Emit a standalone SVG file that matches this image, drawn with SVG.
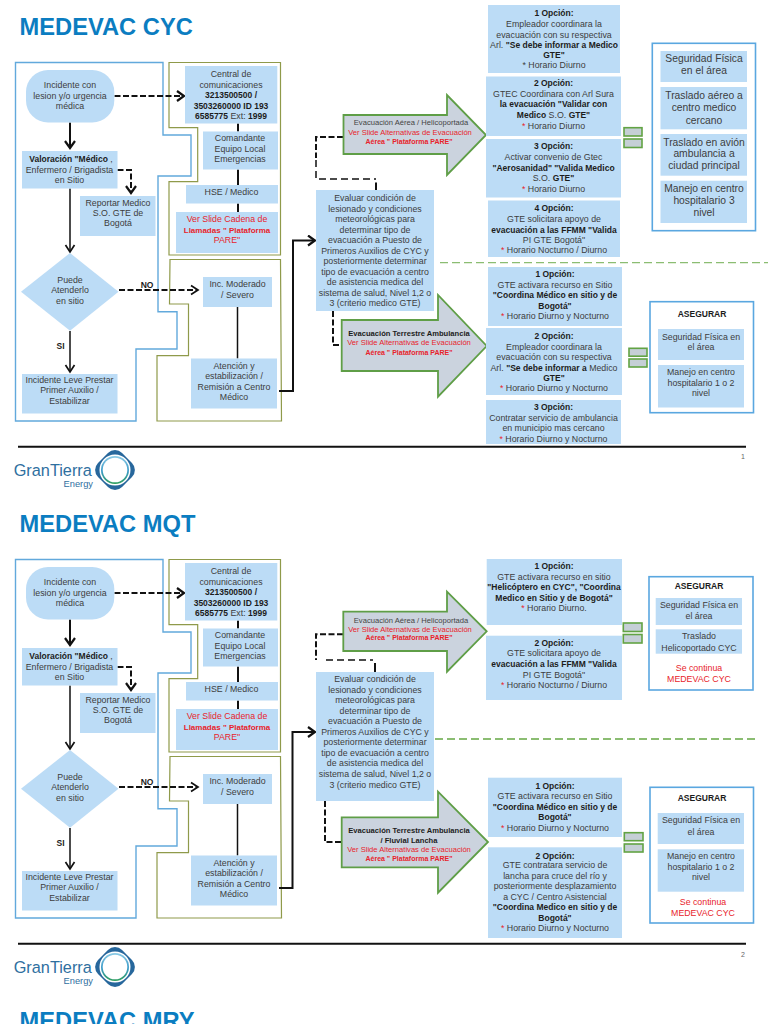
<svg xmlns="http://www.w3.org/2000/svg" width="768" height="1024" viewBox="0 0 768 1024">
<style>
text{font-family:"Liberation Sans",Arial,sans-serif}
.title{font-size:23.700px;font-weight:700;fill:#0b7dc1}
.t{font-size:8.800px;fill:#3d3d3d;text-anchor:middle}
.m{font-size:10.300px;fill:#3d3d3d;text-anchor:middle}
.b{font-weight:700;fill:#1c1c1c;font-size:8.500px}
.r{fill:#e8232b}
.a{font-size:7.600px;fill:#444;text-anchor:middle}
.ar{font-size:7.600px;fill:#e8232b;text-anchor:middle}
.arb{font-size:7px;fill:#e8232b;text-anchor:middle;font-weight:700}
.ab{font-size:7.600px;fill:#1c1c1c;text-anchor:middle;font-weight:700}
.box{fill:#bcdcf6}
.blue{fill:none;stroke:#62a9dc;stroke-width:1.4}
.olive{fill:none;stroke:#8f9a4a;stroke-width:1.2}
.rb{fill:#fff;stroke:#5aa7e0;stroke-width:1.6}
.arrow{fill:#cbd3de;stroke:#5f9e47;stroke-width:1.8}
.eq{fill:#c5cfd6;stroke:#62a344;stroke-width:1.6}
.ln{fill:none;stroke:#111;stroke-width:1.5}
.th{fill:none;stroke:#111;stroke-width:2}
.da{fill:none;stroke:#111;stroke-width:2;stroke-dasharray:6 2.5}
.dl{fill:none;stroke:#111;stroke-width:1.5;stroke-dasharray:7 4}
.gd{fill:none;stroke:#8bbd72;stroke-width:1.3;stroke-dasharray:8 4}
.foot{fill:none;stroke:#111;stroke-width:2}
.pg{font-size:7px;fill:#666;text-anchor:end}
.gt{font-size:16.300px;fill:#2f6f9f}
.en{font-size:9.300px;fill:#2f6f9f;text-anchor:end}
</style>
<defs>
<marker id="op" markerUnits="userSpaceOnUse" markerWidth="12" markerHeight="12" refX="9" refY="6" orient="auto"><path d="M2,1.5 L9,6 L2,10.5" fill="none" stroke="#111" stroke-width="1.7"/></marker>
<marker id="op2" markerUnits="userSpaceOnUse" markerWidth="12" markerHeight="12" refX="9" refY="6" orient="auto"><path d="M2,1 L9,6 L2,11" fill="none" stroke="#111" stroke-width="2.2"/></marker>
<linearGradient id="lg" x1="0" y1="0" x2="0" y2="1"><stop offset="0" stop-color="#8ccbe6"/><stop offset=".55" stop-color="#3a9ac8"/><stop offset="1" stop-color="#2f9f5c"/></linearGradient>
<g id="logoMark">
<rect x="98" y="453" width="34" height="34" rx="10" fill="#27679c" transform="rotate(45 115 470)"/>
<circle cx="115" cy="470" r="15.500" fill="#fff"/>
<circle cx="115" cy="470" r="14" fill="url(#lg)"/>
<circle cx="115" cy="470" r="12.300" fill="#fff"/>
</g>
</defs>
<rect width="768" height="1024" fill="#fff"/>

<text class="title" x="19.500" y="35">MEDEVAC CYC</text>

<g id="s1-left" >
<g id="s1-containers">
<path class="blue" d="M15.500,62.500H163V135H191V176H158V311.700H177V349H136V421H15.500Z"/>
<path class="olive" d="M169,62.500H280.500V255H169V181.700H197.700V127.700H169Z"/>
<path class="olive" d="M170,259.500H280.500L281.500,421H157V355.700H188.500V304H169.500Z"/>
</g>
<g id="s1-connectors">
<path class="th" d="M70,122.500V148" marker-end="url(#op2)"/>
<path class="da" d="M114.500,96H184" marker-end="url(#op2)"/>
<path class="da" d="M117.500,170H131V193" marker-end="url(#op2)"/>
<path class="ln" d="M70,188.500V252" marker-end="url(#op)"/>
<path class="da" d="M119,290H198" marker-end="url(#op)"/>
<path class="ln" d="M70,331V372" marker-end="url(#op)"/>
<path class="th" d="M238,123.500V131.500M238,169.500V185M238,203.500V212"/>
<path class="ln" d="M237.500,307V358.500" stroke-width="1"/>
</g>
<g id="s1-incidente"><rect class="box" x="26" y="70" width="88.300" height="52.500" rx="22"/><text class="t"><tspan x="70" y="88.200">Incidente con</tspan><tspan x="70" y="98.500">lesion y/o urgencia</tspan><tspan x="70" y="109.300">médica</tspan></text></g>
<g id="s1-central"><rect class="box" x="185" y="66" width="92.300" height="57.500"/><text class="t"><tspan x="231" y="77.200">Central de</tspan><tspan x="231" y="87.500">comunicaciones</tspan><tspan x="231" y="98"><tspan class="b">3213500500 /</tspan></tspan><tspan x="231" y="108.500"><tspan class="b">3503260000 ID 193</tspan></tspan><tspan x="231" y="119"><tspan class="b">6585775</tspan>  Ext: <tspan class="b">1999</tspan></tspan></text></g>
<g id="s1-comandante"><rect class="box" x="203" y="131.500" width="75" height="38"/><text class="t"><tspan x="240" y="141.200">Comandante</tspan><tspan x="240" y="151.500">Equipo Local</tspan><tspan x="240" y="162.300">Emergencias</tspan></text></g>
<g id="s1-hse"><rect class="box" x="186" y="185" width="92" height="18.500"/><text class="t" x="231.500" y="195">HSE / Medico</text></g>
<g id="s1-cadena"><rect class="box" x="176" y="212" width="102" height="41"/><text class="t r"><tspan x="227" y="222.200">Ver Slide Cadena de</tspan><tspan x="227" y="232.500" class="r" font-weight="700" font-size="8">Llamadas " Plataforma</tspan><tspan x="227" y="243.300">PARE"</tspan></text></g>
<g id="s1-valoracion"><rect class="box" x="22" y="151" width="95.500" height="37.500"/><text class="t"><tspan x="71" y="162.200"><tspan class="b">Valoración "Médico</tspan> ,</tspan><tspan x="69.500" y="173">Enfermero / Brigadista</tspan><tspan x="69.500" y="183.300">en Sitio</tspan></text></g>
<g id="s1-reportar"><rect class="box" x="80" y="196" width="75.500" height="40"/><text class="t"><tspan x="118" y="205.700">Reportar Medico</tspan><tspan x="118" y="215.500">S.O. GTE de</tspan><tspan x="118" y="226.300">Bogotá</tspan></text></g>
<g id="s1-puede"><path class="box" d="M70,253L118.500,291.800L70,330.700L21,291.800Z"/><text class="t"><tspan x="70" y="282.700">Puede</tspan><tspan x="70" y="293.200">Atenderlo</tspan><tspan x="70" y="304.200">en sitio</tspan></text></g>
<g id="s1-moderado"><rect class="box" x="203" y="277" width="69" height="30"/><text class="t"><tspan x="237.500" y="287.200">Inc. Moderado</tspan><tspan x="237.500" y="298">/ Severo</tspan></text></g>
<g id="s1-atencion"><rect class="box" x="191" y="358.500" width="86" height="50"/><text class="t"><tspan x="234" y="369.200">Atención y</tspan><tspan x="234" y="379.300">estabilización /</tspan><tspan x="234" y="390.300">Remisión a Centro</tspan><tspan x="234" y="400.300">Médico</tspan></text></g>
<g id="s1-leve"><rect class="box" x="22" y="374" width="95.500" height="39.500"/><text class="t"><tspan x="69.500" y="382.500">Incidente Leve Prestar</tspan><tspan x="69.500" y="393.300">Primer Auxilio /</tspan><tspan x="69.500" y="403.500">Estabilizar</tspan></text></g>
<text class="t b" x="147" y="287.500">NO</text>
<text class="t b" x="60.500" y="348.500">SI</text>
</g>

<g id="s1-right-connectors">
<path class="th" d="M279,391H293V240.500H315" marker-end="url(#op2)"/>
<path class="da" d="M343,137H316V158"/>
<path class="dl" d="M316,160V179H376"/>
<path class="th" d="M376,182.500V190"/>
<path class="da" d="M333,311V345H341"/>
<path class="gd" d="M440,262.700H768"/>
</g>
<g id="s1-evaluar"><rect class="box" x="316" y="190" width="118" height="121"/><text class="t"><tspan x="375" y="201">Evaluar condición de</tspan><tspan x="375" y="211.500">lesionado y condiciones</tspan><tspan x="375" y="222.200">meteorológicas para</tspan><tspan x="375" y="232.700">determinar tipo de</tspan><tspan x="375" y="243.200">evacuación a Puesto de</tspan><tspan x="375" y="253.700">Primeros Auxilios de CYC y</tspan><tspan x="375" y="264.200">posteriormente  determinar</tspan><tspan x="375" y="274.700">tipo de evacuación a centro</tspan><tspan x="375" y="285.200">de asistencia medica del</tspan><tspan x="375" y="295.700">sistema de salud, Nivel 1,2 o</tspan><tspan x="375" y="306.200">3 (criterio medico GTE)</tspan></text></g>
<g id="s1-aerea"><path class="arrow" d="M343.500,115H447V95L486,135L447,175V154H343.500Z"/><text class="a" x="411" y="124.500">Evacuación Aérea / Helicoportada</text><text class="ar" x="410" y="134.500">Ver Slide Alternativas de Evacuación</text><text class="arb" x="409" y="143.500">Aérea " Plataforma PARE"</text></g>
<g id="s1-terrestre"><path class="arrow" d="M341.700,320H438V295L486.700,346L438,396.700V371H341.700Z"/><text class="ab" x="409" y="336">Evacuación Terrestre Ambulancia</text><text class="ar" x="409" y="345">Ver Slide Alternativas de Evacuación</text><text class="arb" x="409" y="354.500">Aérea " Plataforma PARE"</text></g>

<g id="s1-op1"><rect class="box" x="488" y="5" width="132" height="68"/><text class="t"><tspan x="554" y="16.300" class="b">1 Opción:</tspan><tspan x="554" y="26.500">Empleador coordinara la</tspan><tspan x="554" y="37.500">evacuación con su respectiva</tspan><tspan x="554" y="47.500">Arl. <tspan class="b">"Se debe informar a Medico</tspan></tspan><tspan x="554" y="58"><tspan class="b">GTE"</tspan></tspan><tspan x="554" y="68.300">* Horario Diurno</tspan></text></g>
<g id="s1-op2"><rect class="box" x="486" y="76.500" width="135" height="59.500"/><text class="t"><tspan x="553.500" y="85.700" class="b">2 Opción:</tspan><tspan x="553.500" y="96.500">GTEC Coordinara con Arl Sura</tspan><tspan x="553.500" y="107"><tspan class="b">la evacuación "Validar con</tspan></tspan><tspan x="553.500" y="117.500"><tspan class="b">Medico</tspan> S.O. <tspan class="b">GTE"</tspan></tspan><tspan x="553.500" y="128.500"><tspan class="r">*</tspan> Horario Diurno</tspan></text></g>
<g id="s1-op3"><rect class="box" x="486" y="139" width="135" height="58.500"/><text class="t"><tspan x="553.500" y="148.700" class="b">3 Opción:</tspan><tspan x="553.500" y="159.500">Activar convenio de Gtec</tspan><tspan x="553.500" y="170.500"><tspan class="b">"Aerosanidad" "Valida Medico</tspan></tspan><tspan x="553.500" y="180.700">S.O. <tspan class="b">GTE"</tspan></tspan><tspan x="553.500" y="191.700"><tspan class="r">*</tspan> Horario Diurno</tspan></text></g>
<g id="s1-op4"><rect class="box" x="488" y="200.500" width="132" height="56.500"/><text class="t"><tspan x="554" y="211.200" class="b">4 Opción:</tspan><tspan x="554" y="222">GTE solicitara apoyo de</tspan><tspan x="554" y="232.700"><tspan class="b">evacuación a las FFMM "Valida</tspan></tspan><tspan x="554" y="243">PI GTE Bogotá"</tspan><tspan x="554" y="253.200"><tspan class="r">*</tspan> Horario Nocturno / Diurno</tspan></text></g>
<g id="s1-op5"><rect class="box" x="488" y="267" width="134" height="59"/><text class="t"><tspan x="555" y="276.700" class="b">1 Opción:</tspan><tspan x="555" y="288">GTE activara recurso en Sitio</tspan><tspan x="555" y="298.200"><tspan class="b">"Coordina Médico en sitio y de</tspan></tspan><tspan x="555" y="308.700"><tspan class="b">Bogotá"</tspan></tspan><tspan x="555" y="319.200"><tspan class="r">*</tspan> Horario Diurno y Nocturno</tspan></text></g>
<g id="s1-op6"><rect class="box" x="486" y="328" width="136" height="67"/><text class="t"><tspan x="554" y="339.200" class="b">2 Opción:</tspan><tspan x="554" y="349.700">Empleador coordinara la</tspan><tspan x="554" y="360.200">evacuación con su respectiva</tspan><tspan x="554" y="370.700">Arl. <tspan class="b">"Se debe informar a</tspan> Medico</tspan><tspan x="554" y="381.200"><tspan class="b">GTE"</tspan></tspan><tspan x="554" y="391.200"><tspan class="r">*</tspan> Horario Diurno y Nocturno</tspan></text></g>
<g id="s1-op7"><rect class="box" x="486" y="400" width="135" height="44"/><text class="t"><tspan x="553.500" y="409.500" class="b">3 Opción:</tspan><tspan x="553.500" y="421">Contratar servicio de ambulancia</tspan><tspan x="553.500" y="431.200">en municipio mas cercano</tspan><tspan x="553.500" y="441.700"><tspan class="r">*</tspan> Horario Diurno y Nocturno</tspan></text></g>

<g id="s1-eq1"><rect class="eq" x="624" y="127.700" width="18" height="8.300"/><rect class="eq" x="624" y="139" width="18" height="8.500"/></g>
<g id="s1-res1"><rect class="rb" x="652.300" y="43.300" width="103.200" height="187.400"/>
<rect class="box" x="660.500" y="51" width="86.500" height="31"/><rect class="box" x="660.500" y="87" width="86.500" height="42.300"/><rect class="box" x="660.500" y="134" width="86.500" height="41.700"/><rect class="box" x="660.500" y="180.700" width="86.500" height="42.300"/>
<text class="m"><tspan x="704" y="62.300">Seguridad Física</tspan><tspan x="704" y="74">en el área</tspan><tspan x="704" y="99.300">Traslado aéreo a</tspan><tspan x="704" y="111.300">centro medico</tspan><tspan x="704" y="123.600">cercano</tspan><tspan x="704" y="145.600">Traslado en avión</tspan><tspan x="704" y="157.300">ambulancia a</tspan><tspan x="704" y="169.300">ciudad principal</tspan><tspan x="704" y="191.600">Manejo en centro</tspan><tspan x="704" y="203.600">hospitalario 3</tspan><tspan x="704" y="215.600">nivel</tspan></text></g>
<g id="s1-eq2"><rect class="eq" x="629" y="348.300" width="18" height="7.900"/><rect class="eq" x="629" y="359" width="18" height="8"/></g>
<g id="s1-res2"><rect class="rb" x="650" y="301.700" width="103.500" height="111"/>
<text class="t b" x="702" y="317.300">ASEGURAR</text>
<rect class="box" x="658" y="329" width="86" height="31"/><rect class="box" x="658" y="365" width="86" height="42.500"/>
<text class="t"><tspan x="701" y="339.800">Seguridad Física en</tspan><tspan x="701" y="349.800">el área</tspan><tspan x="701" y="375">Manejo en centro</tspan><tspan x="701" y="386">hospitalario 1 o 2</tspan><tspan x="701" y="396.200">nivel</tspan></text></g>

<g id="s1-footer"><path class="foot" d="M18,446.700H746"/><text class="pg" x="745" y="459">1</text>
<use href="#logoMark"/><text class="gt" x="13.700" y="476">GranTierra</text><text class="en" x="93" y="487">Energy</text></g>

<text class="title" x="19.500" y="532">MEDEVAC MQT</text>

<g id="s2-left" transform="translate(0,497)">
<g id="s2-containers">
<path class="blue" d="M15.500,62.500H163V135H191V176H158V311.700H177V349H136V421H15.500Z"/>
<path class="olive" d="M169,62.500H280.500V255H169V181.700H197.700V127.700H169Z"/>
<path class="olive" d="M170,259.500H280.500L281.500,421H157V355.700H188.500V304H169.500Z"/>
</g>
<g id="s2-connectors">
<path class="th" d="M70,122.500V148" marker-end="url(#op2)"/>
<path class="da" d="M114.500,96H184" marker-end="url(#op2)"/>
<path class="da" d="M117.500,170H131V193" marker-end="url(#op2)"/>
<path class="ln" d="M70,188.500V252" marker-end="url(#op)"/>
<path class="da" d="M119,290H198" marker-end="url(#op)"/>
<path class="ln" d="M70,331V372" marker-end="url(#op)"/>
<path class="th" d="M238,123.500V131.500M238,169.500V185M238,203.500V212"/>
<path class="ln" d="M237.500,307V358.500" stroke-width="1"/>
</g>
<g id="s2-incidente"><rect class="box" x="26" y="70" width="88.300" height="52.500" rx="22"/><text class="t"><tspan x="70" y="88.200">Incidente con</tspan><tspan x="70" y="98.500">lesion y/o urgencia</tspan><tspan x="70" y="109.300">médica</tspan></text></g>
<g id="s2-central"><rect class="box" x="185" y="66" width="92.300" height="57.500"/><text class="t"><tspan x="231" y="77.200">Central de</tspan><tspan x="231" y="87.500">comunicaciones</tspan><tspan x="231" y="98"><tspan class="b">3213500500 /</tspan></tspan><tspan x="231" y="108.500"><tspan class="b">3503260000 ID 193</tspan></tspan><tspan x="231" y="119"><tspan class="b">6585775</tspan>  Ext: <tspan class="b">1999</tspan></tspan></text></g>
<g id="s2-comandante"><rect class="box" x="203" y="131.500" width="75" height="38"/><text class="t"><tspan x="240" y="141.200">Comandante</tspan><tspan x="240" y="151.500">Equipo Local</tspan><tspan x="240" y="162.300">Emergencias</tspan></text></g>
<g id="s2-hse"><rect class="box" x="186" y="185" width="92" height="18.500"/><text class="t" x="231.500" y="195">HSE / Medico</text></g>
<g id="s2-cadena"><rect class="box" x="176" y="212" width="102" height="41"/><text class="t r"><tspan x="227" y="222.200">Ver Slide Cadena de</tspan><tspan x="227" y="232.500" class="r" font-weight="700" font-size="8">Llamadas " Plataforma</tspan><tspan x="227" y="243.300">PARE"</tspan></text></g>
<g id="s2-valoracion"><rect class="box" x="22" y="151" width="95.500" height="37.500"/><text class="t"><tspan x="71" y="162.200"><tspan class="b">Valoración "Médico</tspan> ,</tspan><tspan x="69.500" y="173">Enfermero / Brigadista</tspan><tspan x="69.500" y="183.300">en Sitio</tspan></text></g>
<g id="s2-reportar"><rect class="box" x="80" y="196" width="75.500" height="40"/><text class="t"><tspan x="118" y="205.700">Reportar Medico</tspan><tspan x="118" y="215.500">S.O. GTE de</tspan><tspan x="118" y="226.300">Bogotá</tspan></text></g>
<g id="s2-puede"><path class="box" d="M70,253L118.500,291.800L70,330.700L21,291.800Z"/><text class="t"><tspan x="70" y="282.700">Puede</tspan><tspan x="70" y="293.200">Atenderlo</tspan><tspan x="70" y="304.200">en sitio</tspan></text></g>
<g id="s2-moderado"><rect class="box" x="203" y="277" width="69" height="30"/><text class="t"><tspan x="237.500" y="287.200">Inc. Moderado</tspan><tspan x="237.500" y="298">/ Severo</tspan></text></g>
<g id="s2-atencion"><rect class="box" x="191" y="358.500" width="86" height="50"/><text class="t"><tspan x="234" y="369.200">Atención y</tspan><tspan x="234" y="379.300">estabilización /</tspan><tspan x="234" y="390.300">Remisión a Centro</tspan><tspan x="234" y="400.300">Médico</tspan></text></g>
<g id="s2-leve"><rect class="box" x="22" y="374" width="95.500" height="39.500"/><text class="t"><tspan x="69.500" y="382.500">Incidente Leve Prestar</tspan><tspan x="69.500" y="393.300">Primer Auxilio /</tspan><tspan x="69.500" y="403.500">Estabilizar</tspan></text></g>
<text class="t b" x="147" y="287.500">NO</text>
<text class="t b" x="60.500" y="348.500">SI</text>
</g>

<g id="s2-right-connectors">
<path class="th" d="M279,888H292.500V732H315" marker-end="url(#op2)"/>
<path class="da" d="M343,634.300H316V660"/>
<path class="dl" d="M326,660H373"/>
<path class="th" d="M375,663V672"/>
<path class="da" d="M325,801V842H341"/>
<path class="gd" d="M435,739H757" style="stroke-width:2.200"/>
</g>
<g id="s2-evaluar"><rect class="box" x="316" y="672" width="118" height="129"/><text class="t"><tspan x="375" y="681.500">Evaluar condición de</tspan><tspan x="375" y="692.700">lesionado y condiciones</tspan><tspan x="375" y="703.200">meteorológicas para</tspan><tspan x="375" y="713.700">determinar tipo de</tspan><tspan x="375" y="724.200">evacuación a Puesto de</tspan><tspan x="375" y="734.700">Primeros Auxilios de CYC y</tspan><tspan x="375" y="745.200">posteriormente  determinar</tspan><tspan x="375" y="755.700">tipo de evacuación a centro</tspan><tspan x="375" y="766.200">de asistencia medica del</tspan><tspan x="375" y="776.700">sistema de salud, Nivel 1,2 o</tspan><tspan x="375" y="787.500">3 (criterio medico GTE)</tspan></text></g>
<g id="s2-aerea"><path class="arrow" d="M343.300,611.700H447V591.700L486.700,631.300L447,671.700V651H343.300Z"/><text class="a" x="411" y="622.500">Evacuación Aérea / Helicoportada</text><text class="ar" x="410" y="631.700">Ver Slide Alternativas de Evacuación</text><text class="arb" x="409" y="640">Aérea " Plataforma PARE"</text></g>
<g id="s2-terrestre"><path class="arrow" d="M341.700,817.300H438V791.700L488,842L438,892.700V867.300H341.700Z"/><text class="ab"><tspan x="409" y="833">Evacuación Terrestre Ambulancia</tspan><tspan x="409" y="842.500">/ Fluvial Lancha</tspan></text><text class="ar" x="409" y="851.700">Ver Slide Alternativas de Evacuación</text><text class="arb" x="409" y="861">Aérea " Plataforma PARE"</text></g>

<g id="s2-op1"><rect class="box" x="486.700" y="559" width="135.300" height="66"/><text class="t"><tspan x="554" y="569.200" class="b">1 Opción:</tspan><tspan x="554" y="580">GTE activara recurso en sitio</tspan><tspan x="554" y="590.200"><tspan class="b">"Helicóptero en CYC", "Coordina</tspan></tspan><tspan x="554" y="601"><tspan class="b">Medico en Sitio y de Bogotá"</tspan></tspan><tspan x="554" y="611"><tspan class="r">*</tspan> Horario Diurno.</tspan></text></g>
<g id="s2-op2"><rect class="box" x="486" y="635.700" width="136" height="64.300"/><text class="t"><tspan x="554" y="645.500" class="b">2 Opción:</tspan><tspan x="554" y="656">GTE solicitara apoyo de</tspan><tspan x="554" y="666.500"><tspan class="b">evacuación a las FFMM "Valida</tspan></tspan><tspan x="554" y="677.500">PI GTE Bogotá"</tspan><tspan x="554" y="687.500"><tspan class="r">*</tspan> Horario Nocturno / Diurno</tspan></text></g>
<g id="s2-op3"><rect class="box" x="488" y="777.700" width="134" height="59.300"/><text class="t"><tspan x="555" y="789" class="b">1 Opción:</tspan><tspan x="555" y="799">GTE activara recurso en Sitio</tspan><tspan x="555" y="809.500"><tspan class="b">"Coordina Médico en sitio y de</tspan></tspan><tspan x="555" y="820"><tspan class="b">Bogotá"</tspan></tspan><tspan x="555" y="831"><tspan class="r">*</tspan> Horario Diurno y Nocturno</tspan></text></g>
<g id="s2-op4"><rect class="box" x="488" y="847.300" width="134" height="90.700"/><text class="t"><tspan x="555" y="858.500" class="b">2 Opción:</tspan><tspan x="555" y="868">GTE contratara servicio de</tspan><tspan x="555" y="879">lancha para cruce del río y</tspan><tspan x="555" y="889">posteriormente desplazamiento</tspan><tspan x="555" y="900">a CYC / Centro Asistencial</tspan><tspan x="555" y="910"><tspan class="b">"Coordina Medico en sitio y de</tspan></tspan><tspan x="555" y="921"><tspan class="b">Bogotá"</tspan></tspan><tspan x="555" y="931"><tspan class="r">*</tspan> Horario Diurno y Nocturno</tspan></text></g>

<g id="s2-eq1"><rect class="eq" x="623.300" y="623" width="18.700" height="8.500"/><rect class="eq" x="623.300" y="634.500" width="18.700" height="8.500"/></g>
<g id="s2-res1"><rect class="rb" x="649" y="576.700" width="104" height="113.300"/>
<text class="t b" x="699" y="588.800">ASEGURAR</text>
<rect class="box" x="655.700" y="598" width="86.300" height="27"/><rect class="box" x="655.700" y="629.300" width="86.300" height="24.400"/>
<text class="t"><tspan x="699" y="608">Seguridad Física en</tspan><tspan x="699" y="619">el área</tspan><tspan x="699" y="639">Traslado</tspan><tspan x="699" y="650.500">Helicoportado  CYC</tspan><tspan x="699" y="670.500" class="r">Se continua</tspan><tspan x="699" y="682" class="r">MEDEVAC CYC</tspan></text></g>
<g id="s2-eq2"><rect class="eq" x="624.300" y="832.700" width="18.700" height="8"/><rect class="eq" x="624.300" y="844" width="18.700" height="8"/></g>
<g id="s2-res2"><rect class="rb" x="650" y="787.300" width="103.500" height="135.700"/>
<text class="t b" x="702" y="800.500">ASEGURAR</text>
<rect class="box" x="657.700" y="813" width="86.300" height="31"/><rect class="box" x="657.700" y="849.300" width="86.300" height="42.400"/>
<text class="t"><tspan x="701" y="823">Seguridad Física en</tspan><tspan x="701" y="834.700">el área</tspan><tspan x="701" y="859">Manejo en centro</tspan><tspan x="701" y="870">hospitalario 1 o 2</tspan><tspan x="701" y="880">nivel</tspan><tspan x="703" y="904.700" class="r">Se continua</tspan><tspan x="703" y="915.700" class="r">MEDEVAC CYC</tspan></text></g>

<g id="s2-footer"><path class="foot" d="M18,943.700H746"/><text class="pg" x="745" y="957">2</text>
<use href="#logoMark" y="497"/><text class="gt" x="13.700" y="973">GranTierra</text><text class="en" x="93" y="984">Energy</text></g>

<text class="title" x="19.500" y="1029">MEDEVAC MRY</text>
</svg>
